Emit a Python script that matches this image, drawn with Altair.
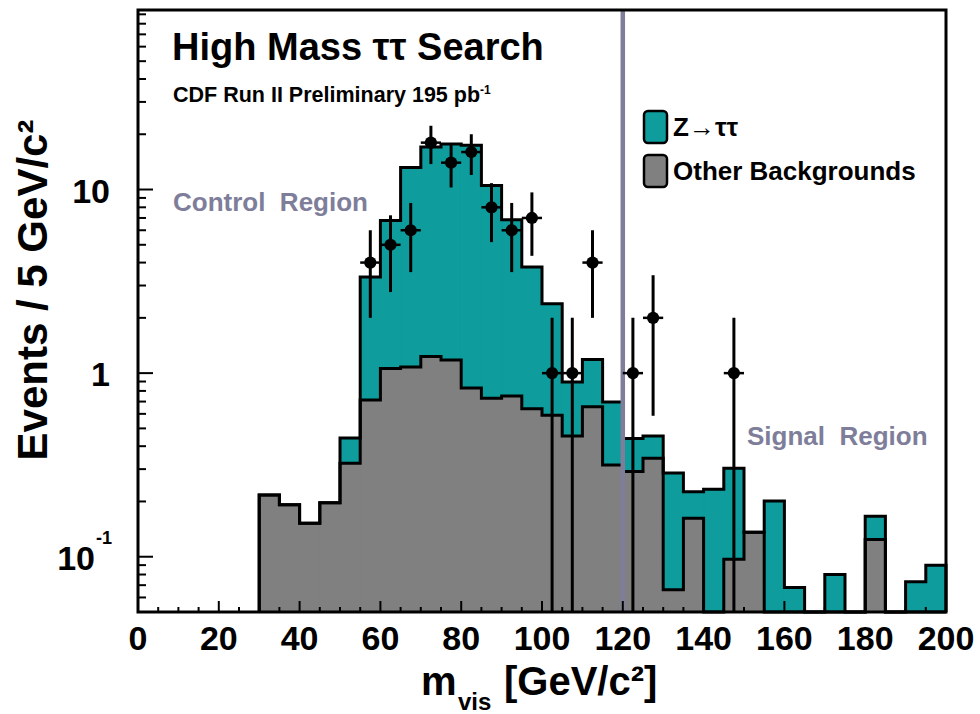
import altair as alt
import numpy as np
import pandas as pd

# Plot-area size in pixels and log-axis range
W, H = 808, 602
FLOOR, TOP = 0.05, 95.0

TEAL = "#0e9c9c"
GREY = "#808080"
REGION = "#7e7e9a"
FONT = "Liberation Sans"

# Visible-mass histogram: lower edges of the 5 GeV/c^2 bins
bin_low = [30, 35, 40, 45, 50, 55, 60, 65, 70, 75, 80, 85, 90, 95, 100, 105, 110,
           115, 120, 125, 130, 135, 140, 145, 150, 155, 160, 165, 170, 175, 180,
           185, 190, 195]
BIN_W = 5

# Expected events per bin
other_bkg = [0.217, 0.192, 0.152, 0.197, 0.323, 0.713, 1.06, 1.08, 1.23, 1.18, 0.83,
             0.73, 0.75, 0.64, 0.59, 0.455, 0.656, 0.316, 0.291, 0.344, 0.066, 0.162,
             0.0, 0.097, 0.136, 0.0, 0.0, 0.0, 0.0, 0.0, 0.124, 0.0, 0.0, 0.0]
z_tautau = [0.0, 0.0, 0.0, 0.0, 0.12, 2.63, 5.72, 12.1, 15.8, 16.5, 16.6,
            9.8, 6.1, 3.14, 1.8, 0.44, 0.53, 0.38, 0.15, 0.11, 0.22, 0.064,
            0.233, 0.206, 0.0, 0.201, 0.068, 0.0, 0.080, 0.0, 0.042, 0.0, 0.073, 0.090]

# Observed events per bin
observed = [0, 0, 0, 0, 0, 4, 5, 6, 18, 14, 16, 8, 6, 7, 1, 1, 4,
            0, 1, 2, 0, 0, 0, 1, 0, 0, 0, 0, 0, 0, 0, 0, 0, 0]

x_major = [0, 20, 40, 60, 80, 100, 120, 140, 160, 180, 200]
x_minor = [v for v in range(5, 200, 5) if v % 20 != 0]
y_major = [0.1, 1, 10]
y_minor = [0.06, 0.07, 0.08, 0.09, 0.2, 0.3, 0.4, 0.5, 0.6, 0.7, 0.8, 0.9,
           2, 3, 4, 5, 6, 7, 8, 9, 20, 30, 40, 50, 60, 70, 80, 90]

SIGNAL_CUT = 120
COMP_Z = "Z\u2192\u03c4\u03c4"
COMP_O = "Other Backgrounds"

xs = alt.Scale(domain=[0, 200], nice=False, zero=False)
ys = alt.Scale(type="log", domain=[FLOOR, TOP], nice=False, clamp=True)


def X(f):
    return alt.X(f, type="quantitative", scale=xs, axis=None)


def Y(f):
    return alt.Y(f, type="quantitative", scale=ys, axis=None)


hist = pd.DataFrame({"lo": bin_low, "other": other_bkg, "z": z_tautau})
hist["hi"] = hist["lo"] + BIN_W
hist["total"] = hist["other"] + hist["z"]


def bins(col):
    df = pd.DataFrame({"lo": hist.lo, "hi": hist.hi, "top": hist[col]})
    df = df[df.top > 0].copy()
    df["base"] = FLOOR
    return df


def step_shape(col):
    """Corner points of a histogram drawn as steps, closed down to the floor."""
    pts = [{"x": bin_low[0], "y": FLOOR}]
    for lo, hi, v in zip(hist.lo, hist.hi, hist[col]):
        v = v if v > 0 else FLOOR
        pts.append({"x": lo, "y": v})
        pts.append({"x": hi, "y": v})
    pts.append({"x": bin_low[-1] + BIN_W, "y": FLOOR})
    df = pd.DataFrame(pts)
    df["k"] = range(len(df))
    return df


def filled(col, colour):
    # a stroke in the fill colour hides hairline seams between neighbouring bins
    return alt.Chart(bins(col)).mark_rect(fill=colour, stroke=colour, strokeWidth=1).encode(
        x=X("lo"), x2="hi", y=Y("top"), y2="base"
    )


def outlined(col):
    return alt.Chart(step_shape(col)).mark_line(color="black", strokeWidth=3).encode(
        x=X("x"), y=Y("y"), order="k:Q"
    )


obs = pd.DataFrame({"c": np.array(bin_low) + BIN_W / 2, "n": observed})
obs = obs[obs.n > 0].copy()
obs["e_lo"] = np.maximum(obs.n - np.sqrt(obs.n), FLOOR)
obs["e_hi"] = obs.n + np.sqrt(obs.n)
obs["xl"] = obs.c - BIN_W / 2
obs["xr"] = obs.c + BIN_W / 2

cut_layer = alt.Chart(pd.DataFrame({"x": [SIGNAL_CUT]})).mark_rule(
    color=REGION, strokeWidth=4.5
).encode(x=X("x"), y=alt.value(0), y2=alt.value(H))

err_v = alt.Chart(obs).mark_rule(color="black", strokeWidth=3).encode(
    x=X("c"), y=Y("e_lo"), y2="e_hi"
)
err_h = alt.Chart(obs).mark_rule(color="black", strokeWidth=2.5).encode(
    x=X("xl"), x2="xr", y=Y("n")
)
dots = alt.Chart(obs).mark_circle(size=150, color="black", opacity=1).encode(
    x=X("c"), y=Y("n")
)

# inward-pointing ticks
tx_maj = alt.Chart(pd.DataFrame({"v": x_major})).mark_rule(color="black", strokeWidth=2).encode(
    x=X("v"), y=alt.value(H), y2=alt.value(H - 11))
tx_min = alt.Chart(pd.DataFrame({"v": x_minor})).mark_rule(color="black", strokeWidth=2).encode(
    x=X("v"), y=alt.value(H), y2=alt.value(H - 5))
ty_maj = alt.Chart(pd.DataFrame({"v": y_major})).mark_rule(color="black", strokeWidth=2).encode(
    y=Y("v"), x=alt.value(0), x2=alt.value(15))
ty_min = alt.Chart(pd.DataFrame({"v": y_minor})).mark_rule(color="black", strokeWidth=2).encode(
    y=Y("v"), x=alt.value(0), x2=alt.value(8))

frame = alt.Chart(pd.DataFrame({"a": [0]})).mark_rect(
    fill=None, stroke="black", strokeWidth=3
).encode(x=alt.value(0), x2=alt.value(W), y=alt.value(0), y2=alt.value(H))

# legend: rounded swatches with labels
legend_rows = pd.DataFrame({
    "label": [COMP_Z, COMP_O],
    "colour": [TEAL, GREY],
    "y0": [101, 145],
})
legend_boxes = alt.Chart(legend_rows).mark_rect(
    stroke="black", strokeWidth=2.5, cornerRadius=4
).encode(
    x=alt.value(506), x2=alt.value(529),
    y=alt.Y("y0:Q", scale=None, axis=None), y2=alt.Y2("y1:Q"),
    fill=alt.Fill("colour:N", scale=None, legend=None),
).transform_calculate(y1="datum.y0 + 32")
legend_text = alt.Chart(legend_rows).mark_text(
    font=FONT, fontSize=26, fontWeight="bold", align="left", baseline="alphabetic", dy=25
).encode(
    x=alt.value(535), y=alt.Y("y0:Q", scale=None, axis=None), text="label:N"
)

# tick labels
x_labels = alt.Chart(pd.DataFrame({"v": x_major, "t": [str(v) for v in x_major]})).mark_text(
    font=FONT, fontSize=34, fontWeight="bold", align="center", baseline="alphabetic"
).encode(x=X("v"), y=alt.value(H + 38), text="t:N")

y_labels = alt.Chart(pd.DataFrame({"v": [10, 1], "t": ["10", "1"]})).mark_text(
    font=FONT, fontSize=34, fontWeight="bold", align="right", baseline="alphabetic", dy=13
).encode(y=Y("v"), x=alt.value(-28), text="t:N")
y_label_exp = alt.Chart(pd.DataFrame({"v": [0.1], "t": ["10"]})).mark_text(
    font=FONT, fontSize=34, fontWeight="bold", align="right", baseline="alphabetic", dy=13
).encode(y=Y("v"), x=alt.value(-43), text="t:N")
y_label_sup = alt.Chart(pd.DataFrame({"v": [0.1], "t": ["-1"]})).mark_text(
    font=FONT, fontSize=18, fontWeight="bold", align="left", baseline="alphabetic", dy=-13
).encode(y=Y("v"), x=alt.value(-42), text="t:N")


def label(text, x, y, size, color="black", align="left", angle=0, baseline="alphabetic"):
    return alt.Chart(pd.DataFrame({"t": [text]})).mark_text(
        font=FONT, fontSize=size, fontWeight="bold", color=color, align=align,
        baseline=baseline, angle=angle
    ).encode(x=alt.value(x), y=alt.value(y), text="t:N")


texts = [
    label("High Mass \u03c4\u03c4 Search", 34, 50, 38),
    label("CDF Run II Preliminary 195 pb", 35, 92, 21.5),
    label("-1", 342, 84, 12),
    label("Control\u00a0\u00a0Region", 35, 201, 26, color=REGION),
    label("Signal\u00a0\u00a0Region", 609, 435, 26, color=REGION),
    label("Events / 5 GeV/c\u00b2", -104, 280, 42, angle=270, align="center", baseline="middle"),
    label("m", 283, 685, 40),
    label("vis", 320, 700, 24),
    label("[GeV/c\u00b2]", 366, 685, 40),
]

chart = alt.layer(
    filled("total", TEAL), filled("other", GREY), outlined("total"), outlined("other"),
    cut_layer, tx_maj, tx_min, ty_maj, ty_min,
    err_v, err_h, dots, frame, legend_boxes, legend_text,
    x_labels, y_labels, y_label_exp, y_label_sup, *texts
).properties(
    width=W, height=H,
    autosize=alt.AutoSizeParams(type="none"),
    padding={"left": 138, "top": 10, "right": 34, "bottom": 102},
    background="white",
).configure_view(stroke=None)

chart.save("out.html", embed_options={"renderer": "svg", "actions": False})
